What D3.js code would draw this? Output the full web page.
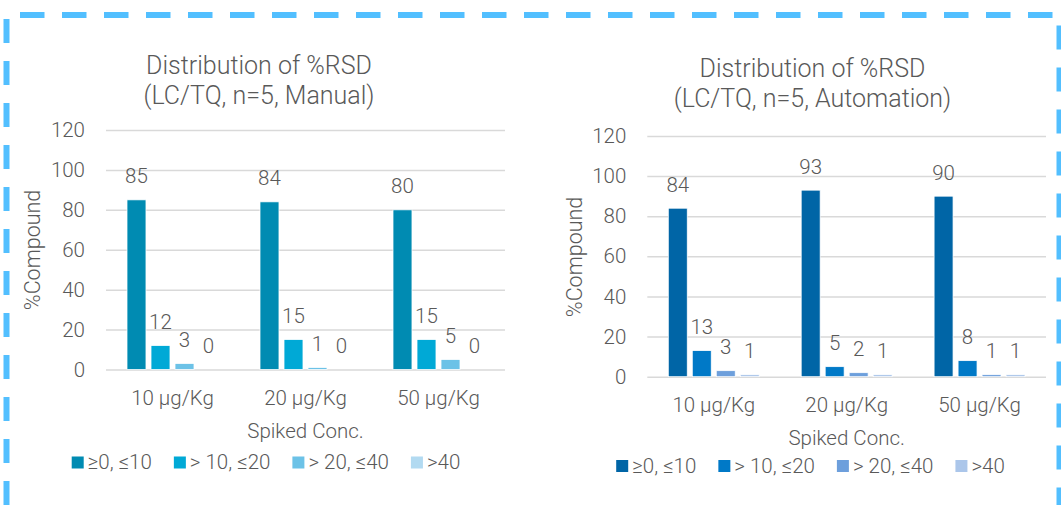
<!DOCTYPE html>
<html>
<head>
<meta charset="utf-8">
<script src="https://cdn.jsdelivr.net/npm/d3@7"></script>
<style>
  html, body { margin: 0; padding: 0; background: #ffffff; }
  svg { display: block; }
  text { font-family: Roboto, "Open Sans", "DejaVu Sans", sans-serif; font-weight: 300; fill: #595959; }
</style>
</head>
<body>
<svg id="chart" width="1061" height="505"></svg>
<script>
// Spiked concentration levels (x categories)
const categories = ["10 µg/Kg", "20 µg/Kg", "50 µg/Kg"];

// %RSD bins (series)
const seriesNames = ["≥0, ≤10", "> 10, ≤20", "> 20, ≤40", ">40"];

// %Compound per bin, one array per bin, ordered like categories
const manualBin1 = [85, 84, 80];
const manualBin2 = [12, 15, 15];
const manualBin3 = [3, 1, 5];
const manualBin4 = [0, 0, 0];

const automationBin1 = [84, 93, 90];
const automationBin2 = [13, 5, 8];
const automationBin3 = [3, 2, 1];
const automationBin4 = [1, 1, 1];

// Y axis ticks
const yTicks = [0, 20, 40, 60, 80, 100, 120];

const manualColors = ["#008bb2", "#00a9d6", "#6cc2e7", "#b2daf1"];
const automationColors = ["#0065a6", "#0079c7", "#6d9fdc", "#abc6ea"];

const svg = d3.select("#chart");

// Dashed frame around both panels
const frameColor = "#52bfff";
svg.append("line")
  .attr("x1", 20).attr("x2", 1061).attr("y1", 15).attr("y2", 15)
  .attr("stroke", frameColor).attr("stroke-width", 6)
  .attr("stroke-dasharray", "24.5,17.5");
svg.append("line")
  .attr("x1", 6.5).attr("x2", 6.5).attr("y1", 19).attr("y2", 505)
  .attr("stroke", frameColor).attr("stroke-width", 6)
  .attr("stroke-dasharray", "24,18");
svg.append("line")
  .attr("x1", 1059.5).attr("x2", 1059.5).attr("y1", 25.5).attr("y2", 505)
  .attr("stroke", frameColor).attr("stroke-width", 6)
  .attr("stroke-dasharray", "24,18");

function drawPanel(opt) {
  const g = svg.append("g");
  const series = opt.values.map((vals, i) => ({ name: seriesNames[i], color: opt.colors[i], vals }));

  const y = d3.scaleLinear().domain([0, 120]).range([opt.bottom, opt.top]);
  const x0 = d3.scaleBand().domain(categories).range([opt.left, opt.right]).padding(0);
  const x1 = d3.scaleBand().domain(seriesNames).range([0, x0.bandwidth()])
    .paddingInner(0.21).paddingOuter(0.875);

  // Title
  const title = g.append("text")
    .attr("text-anchor", "middle")
    .style("font-size", "25px");
  opt.title.forEach((line, i) => {
    title.append("tspan").attr("x", opt.titleX).attr("y", opt.titleY + i * 30).text(line);
  });

  // Gridlines + y tick labels
  const yAxis = g.append("g")
    .attr("transform", `translate(${opt.left},0)`)
    .call(d3.axisLeft(y).tickValues(yTicks).tickSize(-(opt.right - opt.left)).tickPadding(21));
  yAxis.select(".domain").remove();
  yAxis.attr("font-family", null).attr("font-size", null);
  yAxis.selectAll(".tick line").attr("stroke", "#d9d9d9").attr("stroke-width", 1.5);
  yAxis.selectAll(".tick text").style("font-size", "20.5px").attr("fill", "#595959");

  // Bars
  const groups = g.selectAll("g.cat")
    .data(categories)
    .join("g")
    .attr("class", "cat")
    .attr("transform", d => `translate(${x0(d)},0)`);

  groups.each(function (cat, ci) {
    const gg = d3.select(this);
    series.forEach(s => {
      const v = s.vals[ci];
      gg.append("rect")
        .attr("x", x1(s.name))
        .attr("width", x1.bandwidth())
        .attr("y", y(v))
        .attr("height", y(0) - y(v))
        .attr("fill", s.color)
        .attr("stroke", "#ffffff")
        .attr("stroke-width", 0.75);
      gg.append("text")
        .attr("x", x1(s.name) + x1.bandwidth() / 2)
        .attr("y", y(v) - 16.5)
        .attr("text-anchor", "middle")
        .style("font-size", "20.5px")
        .text(v);
    });
  });

  // Category axis
  const xAxis = g.append("g")
    .attr("transform", `translate(0,${opt.bottom})`)
    .call(d3.axisBottom(x0).tickSize(0).tickPadding(21));
  xAxis.select(".domain").remove();
  xAxis.attr("font-family", null).attr("font-size", null);
  xAxis.selectAll(".tick text").style("font-size", "20.5px").attr("fill", "#595959");

  // Axis titles
  g.append("text")
    .attr("x", (opt.left + opt.right) / 2)
    .attr("y", opt.bottom + 68.5)
    .attr("text-anchor", "middle")
    .style("font-size", "20.5px")
    .text("Spiked Conc.");

  g.append("text")
    .attr("transform", `translate(${opt.yTitleX},${opt.yTitleY}) rotate(-90)`)
    .attr("text-anchor", "middle")
    .attr("dy", "0.35em")
    .style("font-size", "21.5px")
    .text("%Compound");

  // Legend, centered under the panel
  const gap = 22;
  const legend = g.append("g");
  const items = legend.selectAll("g.item").data(series).join("g").attr("class", "item");
  items.append("rect").attr("width", 12).attr("height", 12).attr("y", -12)
    .attr("fill", d => d.color);
  items.append("text").attr("x", 16).attr("y", 0.5).style("font-size", "20.5px").text(d => d.name);
  let cx = 0;
  items.each(function () {
    const it = d3.select(this);
    it.attr("transform", `translate(${cx},0)`);
    cx += 16 + it.select("text").node().getComputedTextLength() + gap;
  });
  const total = cx - gap;
  legend.attr("transform", `translate(${opt.legendCX - total / 2},${opt.legendY})`);
}

drawPanel({
  values: [manualBin1, manualBin2, manualBin3, manualBin4],
  colors: manualColors,
  title: ["Distribution of %RSD", "(LC/TQ, n=5, Manual)"],
  titleX: 259, titleY: 73.5,
  left: 106, right: 505, top: 130, bottom: 369.5,
  yTitleX: 32, yTitleY: 250,
  legendCX: 266, legendY: 468.5
});

drawPanel({
  values: [automationBin1, automationBin2, automationBin3, automationBin4],
  colors: automationColors,
  title: ["Distribution of %RSD", "(LC/TQ, n=5, Automation)"],
  titleX: 812.5, titleY: 77,
  left: 647.3, right: 1046, top: 136, bottom: 376.7,
  yTitleX: 574, yTitleY: 257,
  legendCX: 810.5, legendY: 472
});
</script>
</body>
</html>
